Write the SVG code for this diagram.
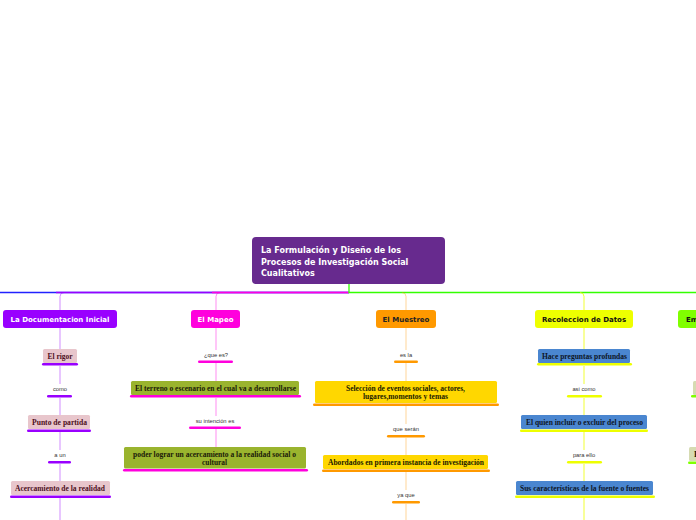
<svg xmlns="http://www.w3.org/2000/svg" width="696" height="520" viewBox="0 0 696 520">
<style>
.hd{font-family:"DejaVu Sans",Verdana,sans-serif;font-weight:bold;font-size:7px;text-anchor:middle}
.tt{font-family:"DejaVu Sans",Verdana,sans-serif;font-weight:bold;font-size:8px;fill:#fff}
.bx{font-family:"Liberation Serif","Times New Roman",serif;font-weight:bold;font-size:8.5px;text-anchor:middle}
.b2{font-size:7.8px}
.lb{font-family:"Liberation Sans",Arial,sans-serif;font-size:5.8px;fill:#333;text-anchor:middle}
.c1{stroke:#9900ff;stroke-opacity:.45;fill:none;stroke-width:1}
.c2{stroke:#ff00dd;stroke-opacity:.45;fill:none;stroke-width:1}
.c3{stroke:#ff9900;stroke-opacity:.4;fill:none;stroke-width:1}
.c4{stroke:#eeff00;stroke-opacity:.8;fill:none;stroke-width:1}
</style>
<rect width="696" height="520" fill="#fff"/>
<g id="connectors">
<path d="M0 292.5H349" stroke="#2222ff" stroke-width="1.3" fill="none"/>
<path d="M56 292.5H349" stroke="#9900ff" stroke-width="1.3" fill="none"/>
<path d="M212 292.5H349" stroke="#ff00dd" stroke-width="1.3" fill="none"/>
<path d="M349 284V292.5H696" stroke="#33ff00" stroke-width="1.3" fill="none"/>
<path class="c1" d="M64 292.5Q60 292.5 60 296.5V310"/>
<path class="c2" d="M220 292.5Q216 292.5 216 296.5V310"/>
<path class="c3" d="M402 292.5Q406 292.5 406 296.5V310"/>
<path class="c4" d="M580 292.5Q584 292.5 584 296.5V310"/>
<path class="c1" d="M60 328V349M60 366V384M60 398V415M60 432V450M60 464V481M60 498V520"/>
<path class="c2" d="M216 328V350M216 363V381M216 398V416M216 429V447"/>
<path class="c3" d="M406 328V350M406 363V381M406 406V424M406 438V455M406 472V490M406 504V520"/>
<path class="c4" d="M584 328V349M584 366V384M584 398V415M584 432V450M584 464V481M584 498V520"/>
</g>
<g id="root">
<rect x="252" y="237" width="193" height="47" rx="4" fill="#672a8e"/>
<text class="tt" x="261" y="253">La Formulación y Diseño de los</text>
<text class="tt" x="261" y="264.5">Procesos de Investigación Social</text>
<text class="tt" x="261" y="276">Cualitativos</text>
</g>
<g id="n-documentacion">
<rect x="3" y="310" width="114" height="18" rx="3" fill="#9900ff"/>
<text class="hd" x="60" y="321.5" fill="#fff">La Documentacion Inicial</text>
</g>
<g id="n-mapeo">
<rect x="191" y="310" width="49" height="18" rx="3" fill="#ff00dd"/>
<text class="hd" x="215.5" y="321.5" fill="#fff">El Mapeo</text>
</g>
<g id="n-muestreo">
<rect x="376" y="310" width="60" height="18" rx="3" fill="#ff9900"/>
<text class="hd" x="406" y="321.5" fill="#222">El Muestreo</text>
</g>
<g id="n-recoleccion">
<rect x="535" y="310" width="98" height="18" rx="3" fill="#eeff00"/>
<text class="hd" x="584" y="321.5" fill="#111">Recoleccion de Datos</text>
</g>
<g id="n-em">
<rect x="678" y="310" width="40" height="18" rx="3" fill="#80ff00"/>
<text class="hd" x="686" y="321.5" fill="#111" style="text-anchor:start">Em</text>
</g>
<g id="c1-items" fill="#9900ff">
<rect x="43" y="349" width="34" height="14" rx="1.5" fill="#e8c6cc"/>
<text class="bx" x="60" y="358.8" fill="#4d0f1c" textLength="25" lengthAdjust="spacingAndGlyphs">El rigor</text>
<rect x="42" y="363" width="36" height="2.6" rx="1.3"/>
<text class="lb" x="60" y="391">como</text>
<rect x="47" y="395" width="25" height="2.6" rx="1.3"/>
<rect x="28" y="415" width="62" height="14" rx="1.5" fill="#e8c6cc"/>
<text class="bx" x="59.5" y="424.8" fill="#4d0f1c" textLength="55" lengthAdjust="spacingAndGlyphs">Punto de partida</text>
<rect x="27" y="429.5" width="64" height="2.6" rx="1.3"/>
<text class="lb" x="60" y="457">a un</text>
<rect x="48" y="461" width="23" height="2.6" rx="1.3"/>
<rect x="11" y="481" width="99" height="14" rx="1.5" fill="#e8c6cc"/>
<text class="bx" x="60" y="490.8" fill="#4d0f1c" textLength="90" lengthAdjust="spacingAndGlyphs">Acercamiento de la realidad</text>
<rect x="10" y="495.5" width="101" height="2.6" rx="1.3"/>
</g>
<g id="c2-items" fill="#ff00dd">
<text class="lb" x="216" y="357">¿que es?</text>
<rect x="198" y="360.5" width="35" height="2.6" rx="1.3"/>
<rect x="131" y="381" width="168" height="14" rx="1.5" fill="#9ab42e"/>
<text class="bx" x="215.5" y="390.8" fill="#1a1a08" textLength="161" lengthAdjust="spacingAndGlyphs">El terreno o escenario en el cual va a desarrollarse</text>
<rect x="130" y="395" width="171" height="2.6" rx="1.3"/>
<text class="lb" x="215" y="423">su intención es</text>
<rect x="189" y="426.5" width="52" height="2.6" rx="1.3"/>
<rect x="124" y="447" width="182" height="21.5" rx="1.5" fill="#9ab42e"/>
<text class="bx b2" x="214.5" y="456.5" fill="#1a1a08" textLength="163" lengthAdjust="spacingAndGlyphs">poder lograr un acercamiento a la realidad social o</text>
<text class="bx b2" x="214.5" y="465" fill="#1a1a08" textLength="25" lengthAdjust="spacingAndGlyphs">cultural</text>
<rect x="123" y="469" width="185" height="2.6" rx="1.3"/>
</g>
<g id="c3-items" fill="#ff9900">
<text class="lb" x="406" y="357">es la</text>
<rect x="394" y="360.5" width="24" height="2.6" rx="1.3"/>
<rect x="315" y="381" width="182" height="22" rx="1.5" fill="#ffd700"/>
<text class="bx b2" x="405.5" y="390.5" fill="#1a1a00" textLength="119" lengthAdjust="spacingAndGlyphs">Selección de eventos sociales, actores,</text>
<text class="bx b2" x="405.5" y="399" fill="#1a1a00" textLength="85" lengthAdjust="spacingAndGlyphs">lugares,momentos y temas</text>
<rect x="313" y="403.5" width="186" height="2.6" rx="1.3"/>
<text class="lb" x="406" y="431">que serán</text>
<rect x="387" y="435" width="38" height="2.6" rx="1.3"/>
<rect x="323" y="455" width="165" height="14" rx="1.5" fill="#ffd700"/>
<text class="bx" x="406" y="464.8" fill="#1a1a00" textLength="156" lengthAdjust="spacingAndGlyphs">Abordados en primera instancia de investigación</text>
<rect x="322" y="469.5" width="168" height="2.6" rx="1.3"/>
<text class="lb" x="406" y="497">ya que</text>
<rect x="392" y="501" width="28" height="2.6" rx="1.3"/>
</g>
<g id="c4-items" fill="#eeff00">
<rect x="538" y="349" width="92" height="14" rx="1.5" fill="#4a86d0"/>
<text class="bx" x="584.5" y="358.8" fill="#0d1526" textLength="85" lengthAdjust="spacingAndGlyphs">Hace preguntas profundas</text>
<rect x="537" y="363" width="95" height="2.6" rx="1.3"/>
<text class="lb" x="584" y="391">asi como</text>
<rect x="567" y="395" width="35" height="2.6" rx="1.3"/>
<rect x="521" y="415" width="126" height="14" rx="1.5" fill="#4a86d0"/>
<text class="bx" x="584.5" y="424.8" fill="#0d1526" textLength="117" lengthAdjust="spacingAndGlyphs">El quien incluir o excluir del proceso</text>
<rect x="520" y="429.5" width="128" height="2.6" rx="1.3"/>
<text class="lb" x="584" y="457">para ello</text>
<rect x="567" y="461" width="35" height="2.6" rx="1.3"/>
<rect x="516" y="481" width="137" height="14" rx="1.5" fill="#4a86d0"/>
<text class="bx" x="584.5" y="490.8" fill="#0d1526" textLength="129" lengthAdjust="spacingAndGlyphs">Sus características de la fuente o fuentes</text>
<rect x="515" y="495.5" width="140" height="2.6" rx="1.3"/>
</g>
<g id="c5-items" fill="#80ff00">
<rect x="693" y="381" width="20" height="14" rx="1.5" fill="#d6dbb2"/>
<rect x="691" y="395" width="20" height="2.6" rx="1.3"/>
<rect x="689" y="447" width="20" height="14" rx="1.5" fill="#d6dbb2"/>
<text class="bx" x="694" y="456.8" fill="#1a1a08" style="text-anchor:start">P</text>
<rect x="688" y="461.5" width="20" height="2.6" rx="1.3"/>
</g>
</svg>
